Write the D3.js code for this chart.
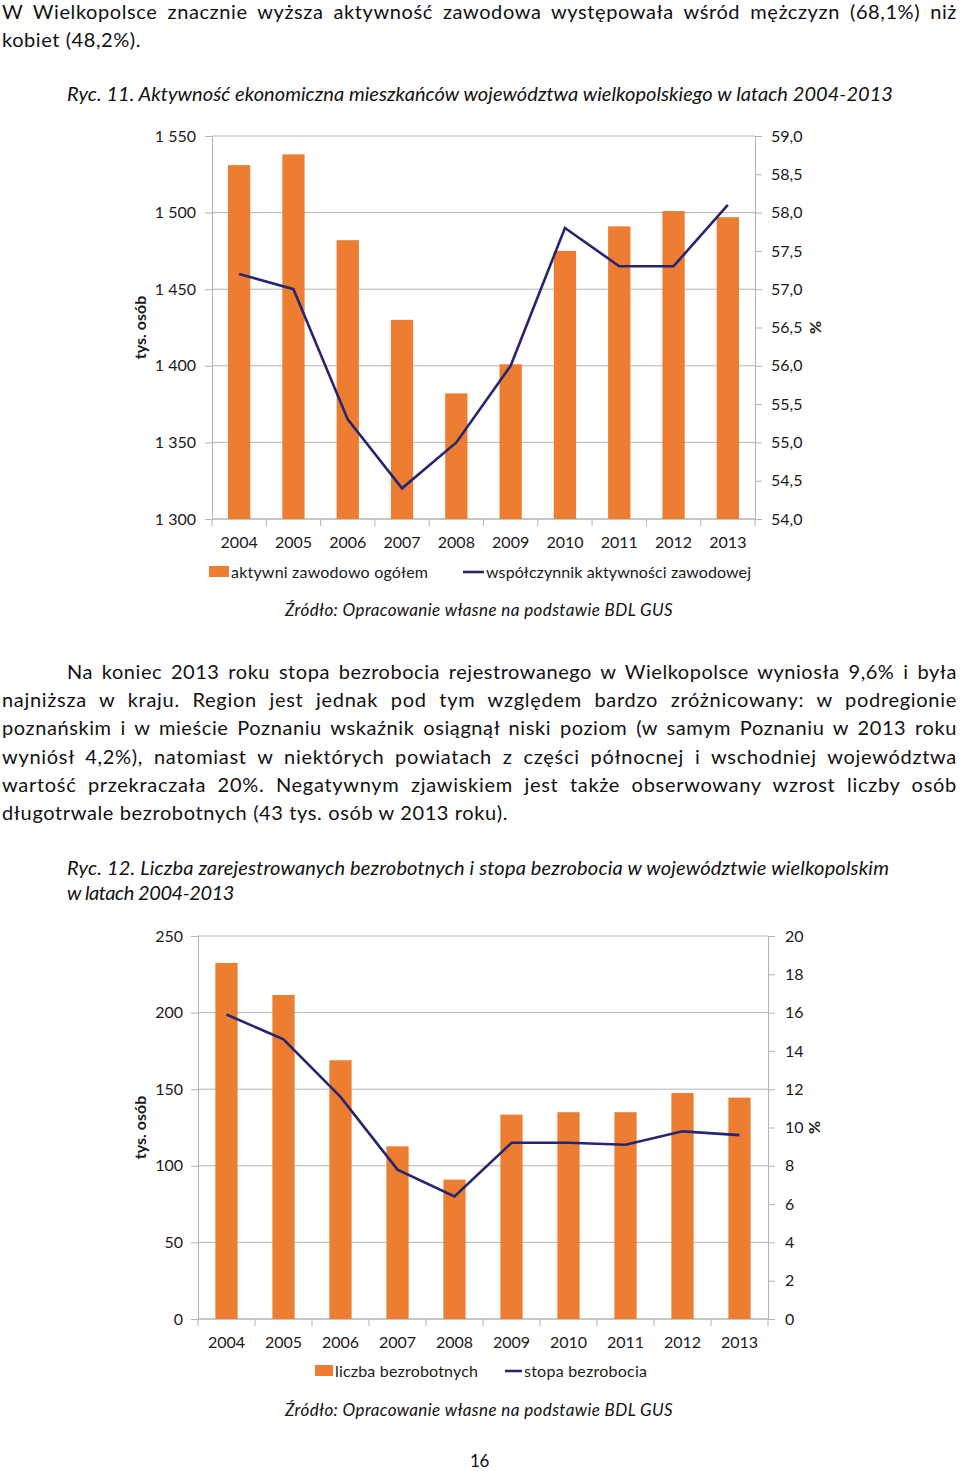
<!DOCTYPE html>
<html><head><meta charset="utf-8">
<script src="https://cdn.jsdelivr.net/npm/d3@7/dist/d3.min.js"></script>
<style>
html,body{margin:0;padding:0;background:#fff;}
svg{display:block;font-family:Lato,"Noto Sans",sans-serif;}
</style></head>
<body>
<svg id="page" width="960" height="1471"></svg>
<script>
// ---------- DATA ----------
const years = ["2004","2005","2006","2007","2008","2009","2010","2011","2012","2013"];
// Ryc. 11
const activeTotal = [1531,1538,1482,1430,1382,1401,1475,1491,1501,1497];   // tys. osób
const activityRate = [57.2,57.0,55.3,54.4,55.0,56.0,57.8,57.3,57.3,58.1]; // %
const leftTicks1 = [1300,1350,1400,1450,1500,1550];
const rightTicks1 = [54,54.5,55,55.5,56,56.5,57,57.5,58,58.5,59];
const legend1 = ["aktywni zawodowo ogółem","współczynnik aktywności zawodowej"];
// Ryc. 12
const unemployedCount = [232.4,211.5,168.9,112.7,91,133.4,135,135,147.5,144.5]; // tys. osób
const unemploymentRate = [15.9,14.6,11.6,7.8,6.4,9.2,9.2,9.1,9.8,9.6];         // %
const leftTicks2 = [0,50,100,150,200,250];
const rightTicks2 = [0,2,4,6,8,10,12,14,16,18,20];
const legend2 = ["liczba bezrobotnych","stopa bezrobocia"];
const leftAxisTitle = "tys. osób";
const rightAxisTitle = "%";
const sourceNote = "Źródło: Opracowanie własne na podstawie BDL GUS";

// ---------- TEXT ----------
const textLines = [
  {t:"W Wielkopolsce znacznie wyższa aktywność zawodowa występowała wśród mężczyzn (68,1%) niż", x:2, w:955, y:19, it:false, j:true},
  {t:"kobiet (48,2%).", x:2, w:139, y:47, it:false},
  {t:"Ryc. 11. Aktywność ekonomiczna mieszkańców województwa wielkopolskiego w latach 2004-2013", x:67, w:826, y:101, it:true},
  {t:sourceNote, x:285, w:388, y:616, it:true, fs:17},
  {t:"Na koniec 2013 roku stopa bezrobocia rejestrowanego w Wielkopolsce wyniosła 9,6% i była", x:67, w:890, y:679, it:false, j:true},
  {t:"najniższa w kraju. Region jest jednak pod tym względem bardzo zróżnicowany: w podregionie", x:2, w:955, y:707, it:false, j:true},
  {t:"poznańskim i w mieście Poznaniu wskaźnik osiągnął niski poziom (w samym Poznaniu w 2013 roku", x:2, w:955, y:735, it:false, j:true},
  {t:"wyniósł 4,2%), natomiast w niektórych powiatach z części północnej i wschodniej województwa", x:2, w:955, y:764, it:false, j:true},
  {t:"wartość przekraczała 20%. Negatywnym zjawiskiem jest także obserwowany wzrost liczby osób", x:2, w:955, y:792, it:false, j:true},
  {t:"długotrwale bezrobotnych (43 tys. osób w 2013 roku).", x:2, w:506, y:820, it:false},
  {t:"Ryc. 12. Liczba zarejestrowanych bezrobotnych i stopa bezrobocia w województwie wielkopolskim", x:67, w:822, y:875, it:true},
  {t:"w latach 2004-2013", x:67, w:167, y:900, it:true},
  {t:sourceNote, x:285, w:388, y:1416, it:true, fs:17},
  {t:"16", x:470, w:19, y:1467, it:false, fs:17}
];

const svg = d3.select("#page");
svg.append("rect").attr("width",960).attr("height",1471).attr("fill","#fff");

svg.append("g").selectAll("text").data(textLines).join("text")
  .attr("x",d=>d.x).attr("y",d=>d.y)
  .attr("font-size",d=>d.fs||20)
  .attr("font-style",d=>d.it?"italic":"normal")
  .attr("fill","#111")
  .text(d=>d.t)
  .each(function(d){
    const nat = this.getComputedTextLength();
    const n = d.t.length;
    const spaces = (d.t.match(/ /g)||[]).length;
    const extra = d.w - nat;
    const sel = d3.select(this);
    if (d.j && spaces>0) {
      const ls = Math.max(-0.3, Math.min(extra*0.55/n, 0.7));
      const rest = extra - ls*n;
      sel.attr("letter-spacing", ls.toFixed(3)).attr("word-spacing", (rest/spaces).toFixed(2));
    } else {
      sel.attr("letter-spacing", (extra/n).toFixed(3));
    }
  });

// ---------- CHARTS ----------
const pl = d3.formatLocale({decimal:",", thousands:" ", grouping:[3], currency:["","zł"]});
const ORANGE = "#ED7D31", NAVY = "#262670", GRID = "#b3b3b3", TXT = "#1a1a1a";

function drawChart(c){
  const g = svg.append("g");
  const x = d3.scaleBand().domain(years).range([c.left,c.right]).paddingInner(c.pad).paddingOuter(c.pad/2);
  const xb = d3.scaleBand().domain(years).range([c.left,c.right]);
  const yL = d3.scaleLinear().domain(c.lDom).range([c.bottom,c.top]);
  const yR = d3.scaleLinear().domain(c.rDom).range([c.bottom,c.top]);

  g.append("g").selectAll("line").data(c.lTicks).join("line")
    .attr("x1",c.left).attr("x2",c.right).attr("y1",d=>yL(d)).attr("y2",d=>yL(d))
    .attr("stroke",GRID).attr("stroke-width",1);

  const la = g.append("g").attr("transform",`translate(${c.left},0)`)
    .call(d3.axisLeft(yL).tickValues(c.lTicks).tickSize(7).tickPadding(c.lPad).tickFormat(pl.format(",.0f")));
  const ra = g.append("g").attr("transform",`translate(${c.right},0)`)
    .call(d3.axisRight(yR).tickValues(c.rTicks).tickSize(7).tickPadding(c.rPad).tickFormat(pl.format(c.rFmt)));
  const ba = g.append("g").attr("transform",`translate(0,${c.bottom})`)
    .call(d3.axisBottom(xb).tickSize(0).tickPadding(18));
  ba.selectAll(".tick text").attr("dy","0.71em");
  const bounds = years.map(y=>xb(y)).concat([c.right]);
  g.append("g").selectAll("line").data(bounds).join("line")
    .attr("x1",d=>d).attr("x2",d=>d).attr("y1",c.bottom).attr("y2",c.bottom+7)
    .attr("stroke",GRID);

  [la,ra,ba].forEach(a=>{
    a.selectAll("path.domain").attr("stroke",GRID);
    a.selectAll(".tick line").attr("stroke",GRID);
    a.selectAll("text").attr("font-size",16).attr("fill",TXT).attr("font-family","Lato,'Noto Sans',sans-serif");
  });
  ba.select("path.domain").remove();
  g.append("line").attr("x1",c.left).attr("x2",c.right).attr("y1",c.bottom).attr("y2",c.bottom).attr("stroke",GRID);

  g.append("g").selectAll("rect").data(c.bars).join("rect")
    .attr("x",(d,i)=>x(years[i])).attr("width",x.bandwidth())
    .attr("y",d=>yL(d)).attr("height",d=>c.bottom-yL(d))
    .attr("fill",ORANGE);

  const line = d3.line().x((d,i)=>xb(years[i])+xb.bandwidth()/2).y(d=>yR(d));
  g.append("path").datum(c.line).attr("d",line)
    .attr("fill","none").attr("stroke",NAVY).attr("stroke-width",2.6).attr("stroke-linejoin","miter");

  const my = (c.top+c.bottom)/2;
  g.append("text").attr("transform",`translate(${c.left-c.lTitleOff},${my}) rotate(-90)`)
    .attr("text-anchor","middle").attr("font-size",16).attr("font-weight","bold").attr("fill",TXT)
    .text(leftAxisTitle);
  g.append("text").attr("transform",`translate(${c.right+c.rTitleOff},${my}) rotate(-90)`)
    .attr("text-anchor","middle").attr("font-size",16).attr("font-weight","bold").attr("fill",TXT)
    .text(rightAxisTitle);

  const lg = g.append("g");
  lg.append("rect").attr("x",c.leg.sx).attr("y",c.leg.y-6).attr("width",c.leg.sw).attr("height",11).attr("fill",ORANGE);
  lg.append("text").attr("x",c.leg.sx+c.leg.sw+2).attr("y",c.leg.y+6).attr("font-size",16).attr("fill",TXT)
    .attr("textLength",c.leg.w1).attr("lengthAdjust","spacing").text(c.legend[0]);
  lg.append("line").attr("x1",c.leg.lx).attr("x2",c.leg.lx+c.leg.lw).attr("y1",c.leg.y).attr("y2",c.leg.y)
    .attr("stroke",NAVY).attr("stroke-width",2.6);
  lg.append("text").attr("x",c.leg.lx+c.leg.lw+2).attr("y",c.leg.y+6).attr("font-size",16).attr("fill",TXT)
    .attr("textLength",c.leg.w2).attr("lengthAdjust","spacing").text(c.legend[1]);
}

drawChart({
  left:212, right:755, top:136, bottom:519, pad:0.59,
  lDom:[1300,1550], rDom:[54,59], lTicks:leftTicks1, rTicks:rightTicks1, rFmt:".1f",
  lPad:9, rPad:9, lTitleOff:66, rTitleOff:66,
  bars:activeTotal, line:activityRate, legend:legend1,
  leg:{sx:209, sw:20, y:572, lx:463, lw:21, w1:197, w2:265}
});
drawChart({
  left:198, right:768, top:936, bottom:1319, pad:0.61,
  lDom:[0,250], rDom:[0,20], lTicks:leftTicks2, rTicks:rightTicks2, rFmt:".0f",
  lPad:8, rPad:10, lTitleOff:52, rTitleOff:52,
  bars:unemployedCount, line:unemploymentRate, legend:legend2,
  leg:{sx:315, sw:18, y:1371, lx:505, lw:17, w1:143, w2:123}
});
</script>
</body></html>
